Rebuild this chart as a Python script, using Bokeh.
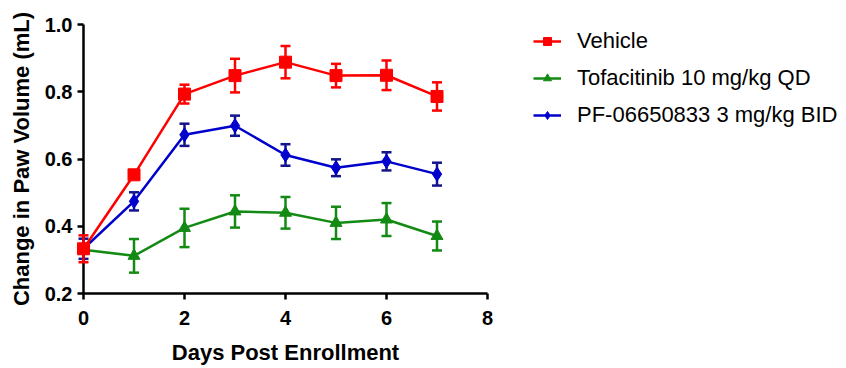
from bokeh.plotting import figure
from bokeh.models import Range1d, ColumnDataSource, Legend, LegendItem, FixedTicker, NumeralTickFormatter
from bokeh.embed import file_html
from bokeh.resources import INLINE

days = [0, 1, 2, 3, 4, 5, 6, 7]
vehicle = [0.333, 0.553, 0.793, 0.848, 0.888, 0.848, 0.849, 0.786]
vehicle_err = [0.040, 0.010, 0.028, 0.050, 0.048, 0.035, 0.044, 0.042]
tofa = [0.330, 0.312, 0.395, 0.444, 0.440, 0.410, 0.420, 0.371]
tofa_err = [0.010, 0.050, 0.057, 0.048, 0.047, 0.048, 0.049, 0.043]
pf = [0.333, 0.474, 0.672, 0.699, 0.612, 0.574, 0.593, 0.555]
pf_err = [0.030, 0.027, 0.033, 0.030, 0.032, 0.025, 0.027, 0.034]
x_ticks = [0, 2, 4, 6, 8]
y_ticks = [0.2, 0.4, 0.6, 0.8, 1.0]
labels = ["Vehicle", "Tofacitinib 10 mg/kg QD", "PF-06650833 3 mg/kg BID"]

FONT = "Liberation Sans"

p = figure(frame_width=404, frame_height=269, output_backend="svg", toolbar_location=None,
           x_range=Range1d(0, 8), y_range=Range1d(0.2, 1.0),
           min_border_left=83, min_border_right=359, min_border_top=24, min_border_bottom=75)
p.outline_line_color = None
p.grid.visible = False
p.background_fill_color = "white"
p.border_fill_color = "white"

for ax in (p.xaxis[0], p.yaxis[0]):
    ax.axis_line_width = 2.5
    ax.axis_line_color = "black"
    ax.major_tick_line_width = 2.5
    ax.major_tick_line_color = "black"
    ax.major_tick_out = 6
    ax.major_tick_in = 0
    ax.minor_tick_out = 0
    ax.minor_tick_in = 0
    ax.major_label_text_font = FONT
    ax.major_label_text_font_style = "bold"
    ax.major_label_text_font_size = "20px"
    ax.major_label_text_color = "black"
    ax.axis_label_text_font = FONT
    ax.axis_label_text_font_style = "bold"
    ax.axis_label_text_font_size = "22px"
    ax.axis_label_text_color = "black"

p.xaxis.ticker = FixedTicker(ticks=x_ticks)
p.yaxis.ticker = FixedTicker(ticks=y_ticks)
p.yaxis.formatter = NumeralTickFormatter(format="0.0")
p.xaxis.axis_label = "Days Post Enrollment"
p.yaxis.axis_label = "Change in Paw Volume (mL)"
p.xaxis.major_label_standoff = 11
p.yaxis.major_label_standoff = 5
p.xaxis.axis_label_standoff = 12
p.yaxis.axis_label_standoff = 8

series = [
    (vehicle, vehicle_err, "#ff0000", "#ff0000", "square", 12),
    (tofa, tofa_err, "#138a13", "#138a13", "triangle", 12),
    (pf, pf_err, "#0000cc", "#14148c", "diamond", 14),
]
items = {}
for i in [1, 2, 0]:
    vals, err, lc, ec, marker, size = series[i]
    lo = [v - e for v, e in zip(vals, err)]
    hi = [v + e for v, e in zip(vals, err)]
    src = ColumnDataSource(dict(x=days, y=vals, lo=lo, hi=hi))
    p.segment(x0="x", y0="lo", x1="x", y1="hi", source=src, line_color=ec, line_width=2.5, level="overlay")
    p.scatter("x", "lo", source=src, marker="dash", size=10, line_color=ec, line_width=2.5, level="overlay")
    p.scatter("x", "hi", source=src, marker="dash", size=10, line_color=ec, line_width=2.5, level="overlay")
    r1 = p.line("x", "y", source=src, line_color=lc, line_width=2.5, level="overlay")
    r2 = p.scatter("x", "y", source=src, marker=marker, size=size, fill_color=lc, line_color=lc, level="overlay")
    items[i] = [r1, r2]

legend = Legend(items=[LegendItem(label=labels[i], renderers=items[i]) for i in range(3)],
                location=(46, 165), orientation="vertical",
                label_text_font=FONT, label_text_font_size="22px", label_text_color="black",
                glyph_width=28, glyph_height=20, label_height=20, label_standoff=16,
                spacing=11, padding=0, margin=0, border_line_color=None,
                background_fill_alpha=0)
p.add_layout(legend, "right")

open("out.html", "w").write(file_html(p, INLINE))
